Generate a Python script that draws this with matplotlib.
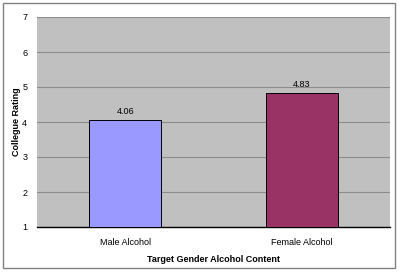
import matplotlib
matplotlib.use("Agg")
import matplotlib.pyplot as plt
from matplotlib.patches import Rectangle

categories = ["Male Alcohol", "Female Alcohol"]
ratings = [4.06, 4.83]
bar_colors = ["#9999FF", "#993366"]
y_ticks = [1, 2, 3, 4, 5, 6, 7]

plt.rcParams["font.family"] = ["Liberation Sans", "DejaVu Sans"]

fig = plt.figure(figsize=(4.0, 2.73), dpi=100)
fig.patch.set_facecolor("white")

# outer chart border
fig.patches.append(Rectangle((3 / 400, 1 - 268 / 273), 392 / 400, 265 / 273,
                             transform=fig.transFigure, fill=False,
                             edgecolor="#808080", linewidth=1))

ax = fig.add_axes([37 / 400, 1 - 227 / 273, 353 / 400, 210 / 273])
ax.set_facecolor("#C0C0C0")

x = range(len(categories))
ax.bar(x, [r - 1 for r in ratings], bottom=1, width=0.41, color=bar_colors,
       edgecolor="black", linewidth=0.7, zorder=3)

for i, r in enumerate(ratings):
    ax.text(i, r + 0.12, f"{r:.2f}", ha="center", va="bottom", fontsize=6.5, zorder=4)

ax.set_xlim(-0.5, 1.5)
ax.set_ylim(1, 7)
ax.set_yticks(y_ticks)
ax.set_xticks(list(x))
ax.set_xticklabels(categories)
ax.tick_params(axis="x", length=0, labelsize=6.5, pad=8)
ax.tick_params(axis="y", length=0, labelsize=6.5, pad=7)
ax.yaxis.grid(True, color="#8C8C8C", linewidth=0.8, zorder=0)
ax.set_axisbelow(True)

for side in ["top", "right", "left"]:
    ax.spines[side].set_visible(False)
ax.spines["bottom"].set_color("black")
ax.spines["bottom"].set_linewidth(1)

ax.set_xlabel("Target Gender Alcohol Content", fontsize=6.5, fontweight="bold", labelpad=6)
ax.set_ylabel("Collegue Rating", fontsize=6.5, fontweight="bold", labelpad=1)

fig.savefig("out.png", dpi=100)
